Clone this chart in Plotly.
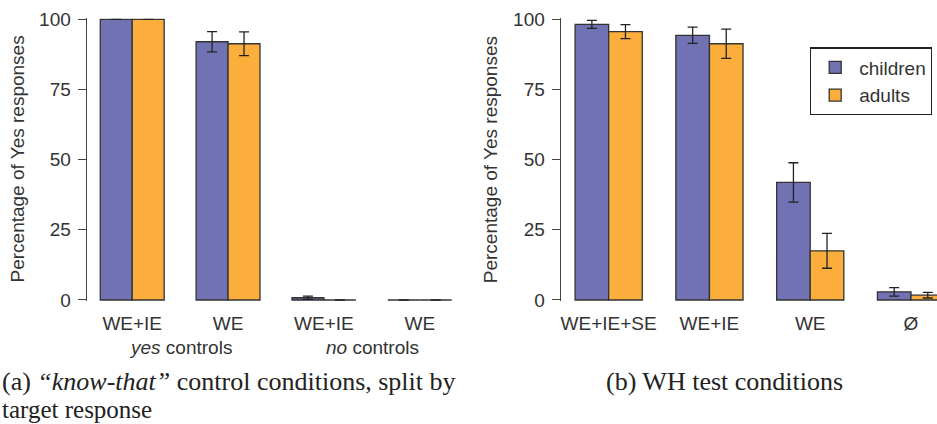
import plotly.graph_objects as go

W, H = 937, 424

# ---------------- data ----------------
left_labels = ["WE+IE", "WE", "WE+IE", "WE"]
left_children = [100.0, 92.0, 0.8, 0.0]
left_children_err = [0.0, 3.6, 0.6, 0.0]
left_adults = [100.0, 91.3, 0.0, 0.0]
left_adults_err = [0.0, 4.2, 0.0, 0.0]

right_labels = ["WE+IE+SE", "WE+IE", "WE", "Ø"]
right_children = [98.2, 94.3, 41.9, 2.9]
right_children_err = [1.4, 2.9, 7.0, 1.5]
right_adults = [95.6, 91.3, 17.5, 1.7]
right_adults_err = [2.5, 5.2, 6.2, 1.0]

y_ticks = [0, 25, 50, 75, 100]
series_names = ["children", "adults"]

PURPLE = "#7172B3"
ORANGE = "#FBAE3C"
EDGE = "#333333"
TXT = "#333333"
SANS = "Liberation Sans, Arial, sans-serif"
SERIF = "Liberation Serif, Times New Roman, serif"


def px_x(p):
    return p / W


def px_y(p):
    return (H - p) / H


fig = go.Figure()


def add_pair(xaxis, yaxis, labels, ch, ch_err, ad, ad_err, show_legend):
    xs = list(range(len(labels)))
    for name, vals, errs, col in [
        (series_names[0], ch, ch_err, PURPLE),
        (series_names[1], ad, ad_err, ORANGE),
    ]:
        fig.add_trace(go.Bar(
            x=xs, y=vals, name=name, xaxis=xaxis, yaxis=yaxis,
            marker=dict(color=col, line=dict(color=EDGE, width=1.3)),
            error_y=dict(type="data", array=errs, visible=True,
                         color="#222222", thickness=1.3, width=5),
            showlegend=show_legend, legendgroup=name,
        ))


add_pair("x", "y", left_labels, left_children, left_children_err,
         left_adults, left_adults_err, False)
add_pair("x2", "y2", right_labels, right_children, right_children_err,
         right_adults, right_adults_err, True)

ydom = [px_y(301.1), px_y(18.2)]
yaxis_common = dict(
    range=[-0.4, 100.4], tickvals=y_ticks, ticks="outside", ticklen=8,
    tickcolor="#444444", tickwidth=1.2, showline=True, linecolor="#444444",
    linewidth=1.2, showgrid=False, zeroline=False,
    tickfont=dict(family=SANS, size=19, color=TXT), domain=ydom,
    ticklabelstandoff=3,
)
xaxis_common = dict(
    showline=False, showgrid=False, zeroline=False, ticks="",
    tickfont=dict(family=SANS, size=19, color=TXT), ticklabelstandoff=9,
)

fig.update_layout(
    width=W, height=H,
    margin=dict(l=0, r=0, t=0, b=0, autoexpand=False),
    paper_bgcolor="white", plot_bgcolor="white",
    barmode="group", bargap=1/3, bargroupgap=0,
    xaxis=dict(xaxis_common, domain=[px_x(86.7), px_x(460)],
               range=[-0.475, 3.42], tickvals=list(range(len(left_labels))),
               ticktext=left_labels, anchor="y"),
    yaxis=dict(yaxis_common, anchor="x"),
    xaxis2=dict(xaxis_common, domain=[px_x(560.7), 1.0],
                range=[-0.476, 3.258], tickvals=list(range(len(right_labels))),
                ticktext=right_labels, anchor="y2"),
    yaxis2=dict(yaxis_common, anchor="x2"),
    legend=dict(
        x=px_x(810), y=px_y(47.3), xanchor="left", yanchor="top",
        bordercolor="#222222", borderwidth=1.2, bgcolor="white",
        font=dict(family=SANS, size=19, color=TXT),
        tracegroupgap=0, itemwidth=38,
    ),
    showlegend=True,
)

ann = []
# y-axis titles
for xc in (17, 490.7):
    ann.append(dict(
        text="Percentage of Yes responses", x=px_x(xc), y=px_y(159.5),
        xref="paper", yref="paper", showarrow=False, textangle=-90,
        xanchor="center", yanchor="middle",
        font=dict(family=SANS, size=19, color=TXT),
    ))
# group labels
ann.append(dict(text="<i>yes</i> controls", x=px_x(180), y=px_y(347),
                xref="paper", yref="paper", showarrow=False,
                xanchor="center", yanchor="middle",
                font=dict(family=SANS, size=19, color=TXT)))
ann.append(dict(text="<i>no</i> controls", x=px_x(372), y=px_y(347),
                xref="paper", yref="paper", showarrow=False,
                xanchor="center", yanchor="middle",
                font=dict(family=SANS, size=19, color=TXT)))
# captions
ann.append(dict(text="(a) <i>“know-that”</i> control conditions, split by",
                x=0, y=px_y(381.5), xref="paper", yref="paper",
                showarrow=False, xanchor="left", yanchor="middle",
                font=dict(family=SERIF, size=26, color="#222222")))
ann.append(dict(text="target response",
                x=0, y=px_y(409.5), xref="paper", yref="paper",
                showarrow=False, xanchor="left", yanchor="middle",
                font=dict(family=SERIF, size=25, color="#222222")))
ann.append(dict(text="(b) WH test conditions",
                x=px_x(724), y=px_y(381.5), xref="paper", yref="paper",
                showarrow=False, xanchor="center", yanchor="middle",
                font=dict(family=SERIF, size=26, color="#222222")))
fig.update_layout(annotations=ann)

fig.write_html(
    "out.html",
    config={"displayModeBar": False},
    post_script="document.body.style.margin='0';document.body.style.overflow='hidden';",
)
